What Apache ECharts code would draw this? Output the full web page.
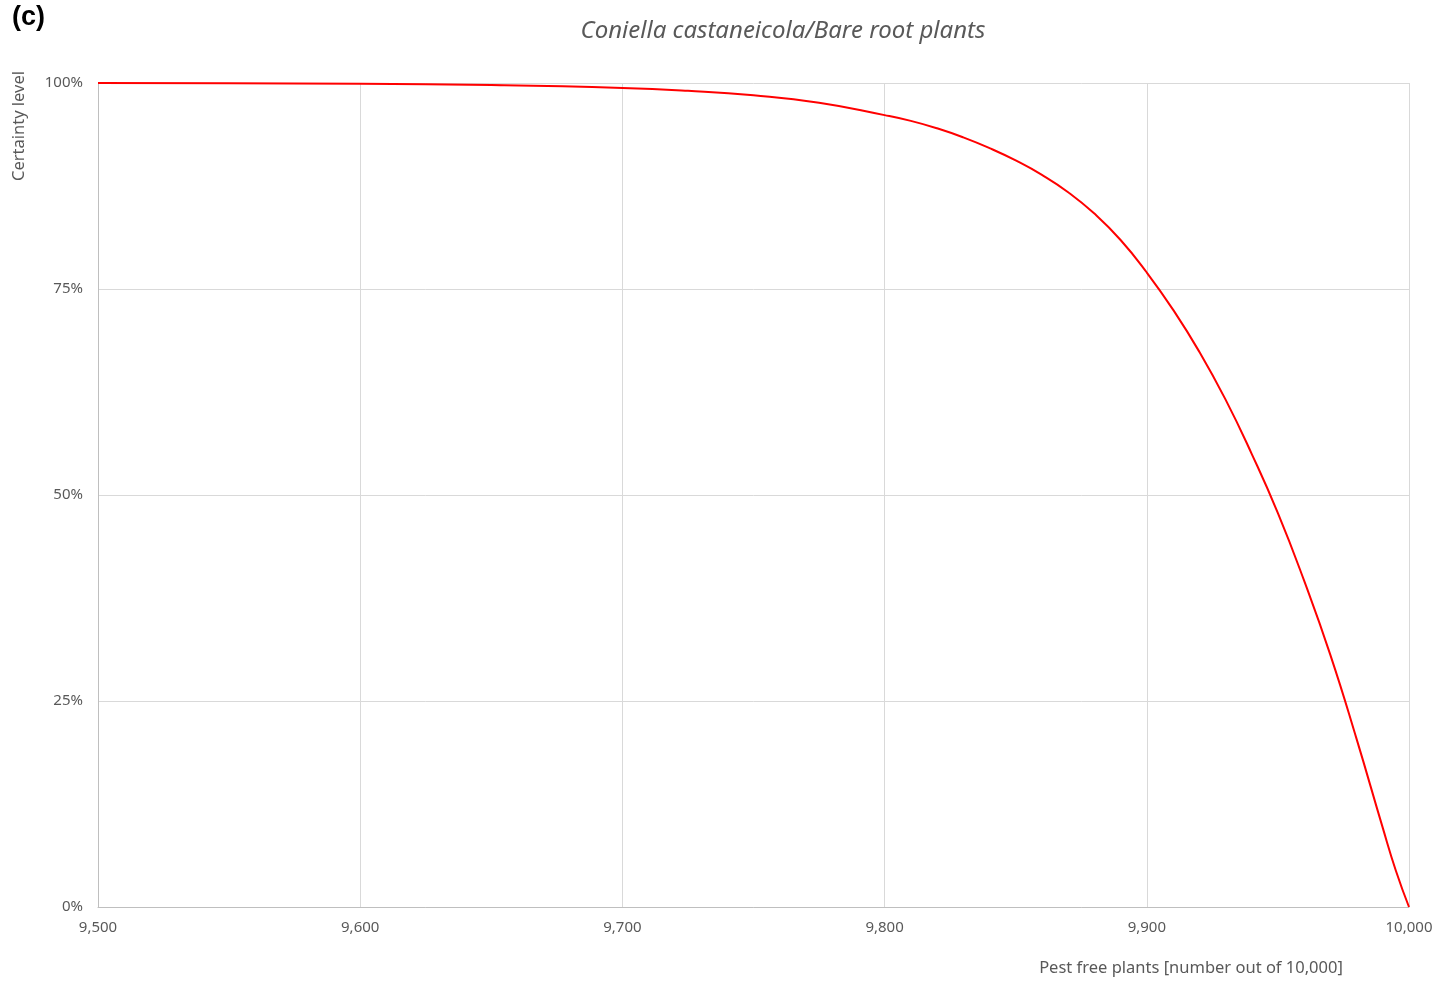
<!DOCTYPE html>
<html>
<head>
<meta charset="utf-8">
<script src="https://cdn.jsdelivr.net/npm/echarts@6/dist/echarts.min.js"></script>
<style>html,body{margin:0;padding:0;background:#fff;}#c{width:1436px;height:981px;}</style>
</head>
<body>
<div id="c"></div>
<script>
const pestFree = [9500, 9550, 9600, 9650, 9700, 9725, 9750, 9775, 9800, 9810, 9820, 9830, 9840, 9850, 9860, 9870, 9880, 9890, 9900, 9910, 9920, 9930, 9940, 9950, 9960, 9970, 9980, 9990, 9995, 10000];
const certainty = [100, 99.97, 99.9, 99.75, 99.4, 99.05, 98.5, 97.6, 96.1, 95.4, 94.5, 93.4, 92.1, 90.6, 88.85, 86.75, 84.15, 80.95, 77.0, 72.5, 67.4, 61.6, 55.0, 47.8, 39.6, 30.6, 20.4, 9.6, 4.4, 0];
const yTicks = [0, 25, 50, 75, 100];
const titleText = 'Coniella castaneicola/Bare root plants';
const panelLabel = '(c)';
const yName = 'Certainty level';
const xName = 'Pest free plants [number out of 10,000]';

const chart = echarts.init(document.getElementById('c'));
const grey = '#595959';
chart.setOption({
  animation: false,
  backgroundColor: '#fff',
  grid: {left: 98, right: 27, top: 83, bottom: 74},
  xAxis: {
    type: 'value', min: 9500, max: 10000, interval: 100,
    axisLine: {show: true, lineStyle: {color: '#bfbfbf', width: 1}},
    axisTick: {show: false},
    splitLine: {show: true, lineStyle: {color: '#d9d9d9', width: 1}},
    axisLabel: {color: grey, fontSize: 15, fontFamily: 'Noto Sans', margin: 13,
      formatter: v => v.toLocaleString('en-US')}
  },
  yAxis: {
    type: 'value', min: 0, max: 100, interval: 25,
    axisLine: {show: true, lineStyle: {color: '#bfbfbf', width: 1}},
    axisTick: {show: false},
    splitLine: {show: true, lineStyle: {color: '#d9d9d9', width: 1}},
    axisLabel: {color: grey, fontSize: 15, fontFamily: 'Noto Sans', margin: 15,
      formatter: v => yTicks.includes(v) ? v + '%' : ''}
  },
  series: [{
    type: 'line', smooth: 0.5, showSymbol: false,
    lineStyle: {color: '#ff0000', width: 2},
    data: pestFree.map((x, i) => [x, certainty[i]])
  }],
  graphic: [
    {type: 'text', left: 12, top: 4, style: {text: panelLabel, font: 'bold 27px "Liberation Sans"', fill: '#000'}},
    {type: 'text', x: 783, y: 31, style: {text: titleText, font: 'italic 24px "Noto Sans"', fill: grey, textAlign: 'center', textVerticalAlign: 'middle'}},
    {type: 'text', x: 19, y: 126, rotation: Math.PI / 2, style: {text: yName, font: '16.5px "Noto Sans"', fill: grey, textAlign: 'center', textVerticalAlign: 'middle'}},
    {type: 'text', x: 1191, y: 968, style: {text: xName, font: '16.5px "Noto Sans"', fill: grey, textAlign: 'center', textVerticalAlign: 'middle'}}
  ]
});
</script>
</body>
</html>
